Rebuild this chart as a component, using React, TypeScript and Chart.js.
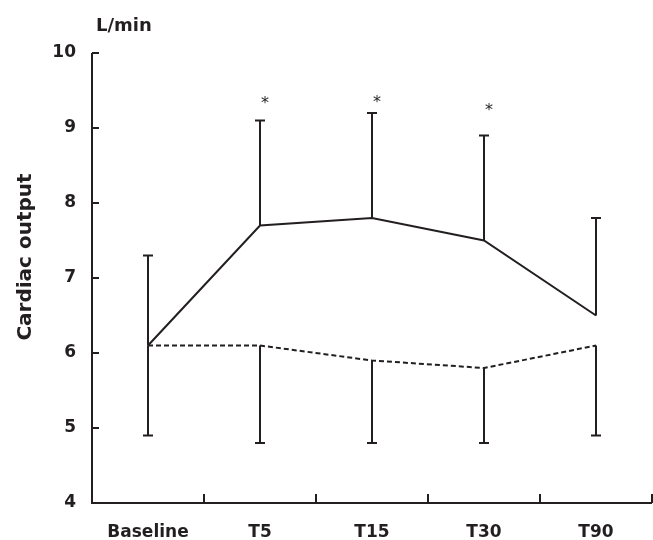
import React, { useEffect, useRef } from "react";
import { Chart, registerables } from "chart.js";

Chart.register(...registerables);

const categories = ["Baseline", "T5", "T15", "T30", "T90"];
const solidMean = [6.1, 7.7, 7.8, 7.5, 6.5];
const solidUpper = [7.3, 9.1, 9.2, 8.9, 7.8];
const dashedMean = [6.1, 6.1, 5.9, 5.8, 6.1];
const dashedLower = [4.9, 4.8, 4.8, 4.8, 4.9];
const asteriskLevel: (number | null)[] = [null, 9.36, 9.38, 9.27, null];
const yTicks = [4, 5, 6, 7, 8, 9, 10];
const yTitle = "Cardiac output";
const yUnit = "L/min";

const INK = "#231f20";
const W = 653;
const H = 540;

const decorPlugin = {
  id: "decor",
  afterDraw(chart: any) {
    const ctx = chart.ctx;
    const xs = chart.scales.x;
    const ys = chart.scales.y;
    const { left, right, top, bottom } = chart.chartArea;
    ctx.save();
    ctx.strokeStyle = INK;
    ctx.fillStyle = INK;
    ctx.lineWidth = 2;
    ctx.lineCap = "butt";

    // axes
    ctx.beginPath();
    ctx.moveTo(left, top);
    ctx.lineTo(left, bottom);
    ctx.lineTo(right, bottom);
    ctx.stroke();

    // y ticks (inward)
    yTicks.forEach((v) => {
      const y = ys.getPixelForValue(v);
      ctx.beginPath();
      ctx.moveTo(left, y);
      ctx.lineTo(left + 7, y);
      ctx.stroke();
    });

    // x ticks (between categories, inward)
    for (let i = 0; i <= categories.length; i++) {
      const x = xs.getPixelForValue(i - 0.5);
      ctx.beginPath();
      ctx.moveTo(x, bottom);
      ctx.lineTo(x, bottom - 9);
      ctx.stroke();
    }

    // error bars
    const cap = 5;
    categories.forEach((_, i) => {
      const x = xs.getPixelForValue(i);
      const y1 = ys.getPixelForValue(solidMean[i]);
      const y2 = ys.getPixelForValue(solidUpper[i]);
      ctx.beginPath();
      ctx.moveTo(x, y1);
      ctx.lineTo(x, y2);
      ctx.moveTo(x - cap, y2);
      ctx.lineTo(x + cap, y2);
      ctx.stroke();
      const y3 = ys.getPixelForValue(dashedMean[i]);
      const y4 = ys.getPixelForValue(dashedLower[i]);
      ctx.beginPath();
      ctx.moveTo(x, y3);
      ctx.lineTo(x, y4);
      ctx.moveTo(x - cap, y4);
      ctx.lineTo(x + cap, y4);
      ctx.stroke();
    });

    // asterisks
    ctx.font = "16px 'DejaVu Sans'";
    ctx.textAlign = "center";
    ctx.textBaseline = "middle";
    asteriskLevel.forEach((lv, i) => {
      if (lv == null) return;
      const x = xs.getPixelForValue(i) + 5;
      const y = ys.getPixelForValue(lv);
      ctx.fillText("*", x, y + 3);
    });

    // y title
    ctx.save();
    ctx.translate(26, 257);
    ctx.rotate(-Math.PI / 2);
    ctx.font = "bold 20px 'DejaVu Sans'";
    ctx.textAlign = "center";
    ctx.textBaseline = "middle";
    ctx.fillText(yTitle, 0, 0);
    ctx.restore();

    // unit
    ctx.font = "bold 18px 'DejaVu Sans'";
    ctx.textAlign = "left";
    ctx.textBaseline = "alphabetic";
    ctx.fillText(yUnit, 96, 31);

    ctx.restore();
  },
};

export default function App() {
  const ref = useRef<HTMLCanvasElement | null>(null);

  useEffect(() => {
    if (!ref.current) return;
    const chart = new Chart(ref.current, {
      type: "line",
      data: {
        labels: categories,
        datasets: [
          {
            data: solidMean,
            borderColor: INK,
            borderWidth: 2,
            pointRadius: 0,
            fill: false,
            tension: 0,
          },
          {
            data: dashedMean,
            borderColor: INK,
            borderWidth: 2,
            borderDash: [5, 3],
            pointRadius: 0,
            fill: false,
            tension: 0,
          },
        ],
      },
      options: {
        responsive: false,
        devicePixelRatio: 1,
        animation: false,
        layout: { padding: { top: 53, right: 1, bottom: 0, left: 0 } },
        plugins: {
          legend: { display: false },
          tooltip: { enabled: false },
          title: { display: false },
        },
        scales: {
          x: {
            type: "category",
            offset: true,
            grid: { display: false, drawTicks: false },
            border: { display: false },
            ticks: {
              color: INK,
              padding: 19,
              maxRotation: 0,
              font: { family: "'DejaVu Sans'", size: 17, weight: "bold" },
            },
            afterFit: (s: any) => {
              s.height = 37;
            },
          },
          y: {
            type: "linear",
            min: 4,
            max: 10,
            grid: { display: false, drawTicks: false },
            border: { display: false },
            ticks: {
              stepSize: 1,
              color: INK,
              padding: 16,
              font: { family: "'DejaVu Sans'", size: 17, weight: "bold" },
            },
            afterFit: (s: any) => {
              s.width = 92;
            },
          },
        },
      },
      plugins: [decorPlugin],
    });
    return () => chart.destroy();
  }, []);

  return (
    <div style={{ position: "fixed", left: 0, top: 0, width: W, height: H, background: "#fff" }}>
      <canvas ref={ref} width={W} height={H} style={{ display: "block", width: W, height: H }} />
    </div>
  );
}
